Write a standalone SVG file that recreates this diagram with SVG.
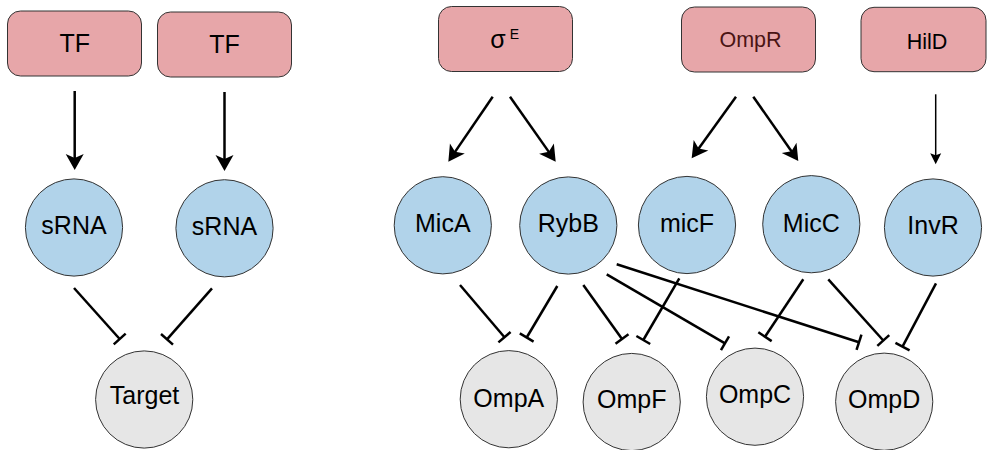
<svg xmlns="http://www.w3.org/2000/svg" width="987" height="450" viewBox="0 0 987 450">
<style>
.tf{fill:#e7a6a9;stroke:#333;stroke-width:1}
.srna{fill:#b1d3ea;stroke:#333;stroke-width:1}
.tgt{fill:#e6e6e6;stroke:#333;stroke-width:1}
text{font-family:"Liberation Sans",Arial,sans-serif;font-size:25px;fill:#000;text-anchor:middle}
.act{stroke:#000;stroke-width:2.5;fill:none;marker-end:url(#arr)}
.thin{stroke:#000;stroke-width:1.5;fill:none;marker-end:url(#arrs)}
.inh{stroke:#000;stroke-width:2.5;fill:none;marker-end:url(#bar)}
</style>
<defs>
<marker id="arr" markerUnits="userSpaceOnUse" viewBox="-16 -10 21 20" markerWidth="21" markerHeight="20" refX="0" refY="0" orient="auto">
<path d="M4,0 L-12,-9 L-8,0 L-12,9 Z" fill="#000"/>
</marker>
<marker id="arrs" markerUnits="userSpaceOnUse" viewBox="-12 -7 16 14" markerWidth="16" markerHeight="14" refX="0" refY="0" orient="auto">
<path d="M3,0 L-8,-5.5 L-6,0 L-8,5.5 Z" fill="#000"/>
</marker>
<marker id="bar" markerUnits="userSpaceOnUse" viewBox="-3 -10 6 20" markerWidth="6" markerHeight="20" refX="0" refY="0" orient="auto">
<path d="M0,-8 L0,8" stroke="#000" stroke-width="2.5"/>
</marker>
</defs>

<g id="connectors">
<line class="act" x1="74.7" y1="91" x2="74.7" y2="166"/>
<line class="act" x1="224.5" y1="92" x2="224.5" y2="167"/>
<line class="act" x1="492.7" y1="96.7" x2="450.6" y2="158.4"/>
<line class="act" x1="510" y1="96.7" x2="553.4" y2="158.4"/>
<line class="act" x1="736" y1="96.7" x2="694" y2="155.1"/>
<line class="act" x1="753.3" y1="96.7" x2="796" y2="157.7"/>
<line class="thin" x1="935.7" y1="94.3" x2="935.7" y2="161.3"/>

<line class="inh" x1="74" y1="288" x2="119.7" y2="339"/>
<line class="inh" x1="212" y1="288.3" x2="167" y2="339.3"/>
<line class="inh" x1="460" y1="285" x2="504.5" y2="337.2"/>
<line class="inh" x1="557.3" y1="286" x2="526.7" y2="337.5"/>
<line class="inh" x1="583.3" y1="285" x2="622" y2="339"/>
<line class="inh" x1="679.3" y1="278.3" x2="643.3" y2="340"/>
<line class="inh" x1="606.7" y1="274.3" x2="725" y2="343.3"/>
<line class="inh" x1="616.7" y1="264.3" x2="859" y2="342.3"/>
<line class="inh" x1="803.3" y1="279.3" x2="765" y2="336.7"/>
<line class="inh" x1="828.3" y1="279.3" x2="883.3" y2="340.5"/>
<line class="inh" x1="936" y1="283.3" x2="902.5" y2="346.7"/>
</g>

<g id="tf1"><rect class="tf" x="7.5" y="11" width="134" height="65" rx="13"/><text x="74.7" y="52">TF</text></g>
<g id="tf2"><rect class="tf" x="157.5" y="12" width="134" height="65" rx="13"/><text x="224.5" y="53">TF</text></g>
<g id="sigmaE"><rect class="tf" x="438.5" y="6.5" width="134" height="65" rx="13"/><text x="498" y="48.3">σ</text><text x="514.5" y="39.3" style="font-size:14px">E</text></g>
<g id="OmpR"><rect class="tf" x="681.5" y="7" width="134" height="65" rx="13"/><text x="750.5" y="47.3" style="font-size:21.5px;fill:#4a1414">OmpR</text></g>
<g id="HilD"><rect class="tf" x="861" y="7.3" width="125" height="64.4" rx="13"/><text x="927" y="49.3" style="font-size:21.5px">HilD</text></g>

<g id="srna1"><circle class="srna" cx="74" cy="227.5" r="48.6"/><text x="74" y="234.3">sRNA</text></g>
<g id="srna2"><circle class="srna" cx="224.5" cy="228.3" r="48.6"/><text x="224.5" y="235">sRNA</text></g>
<g id="MicA"><circle class="srna" cx="442.8" cy="225.3" r="48.6"/><text x="442.8" y="231.7">MicA</text></g>
<g id="RybB"><circle class="srna" cx="568.3" cy="225.5" r="48.6"/><text x="568.3" y="231.7">RybB</text></g>
<g id="micF"><circle class="srna" cx="687" cy="225" r="48.6"/><text x="687" y="232">micF</text></g>
<g id="MicC"><circle class="srna" cx="811.3" cy="224.2" r="48.6"/><text x="811.3" y="232.3">MicC</text></g>
<g id="InvR"><circle class="srna" cx="933" cy="227.5" r="48.6"/><text x="933" y="234.3">InvR</text></g>

<g id="Target"><circle class="tgt" cx="144.2" cy="399.5" r="48.6"/><text x="144.5" y="404.3">Target</text></g>
<g id="OmpA"><circle class="tgt" cx="508.8" cy="399.2" r="48.6"/><text x="508.8" y="406.7">OmpA</text></g>
<g id="OmpF"><circle class="tgt" cx="631.7" cy="402" r="48.6"/><text x="631.7" y="408.3">OmpF</text></g>
<g id="OmpC"><circle class="tgt" cx="755" cy="396.7" r="48.6"/><text x="755" y="403.3">OmpC</text></g>
<g id="OmpD"><circle class="tgt" cx="884.2" cy="401.7" r="48.6"/><text x="884.2" y="408.3">OmpD</text></g>
</svg>
